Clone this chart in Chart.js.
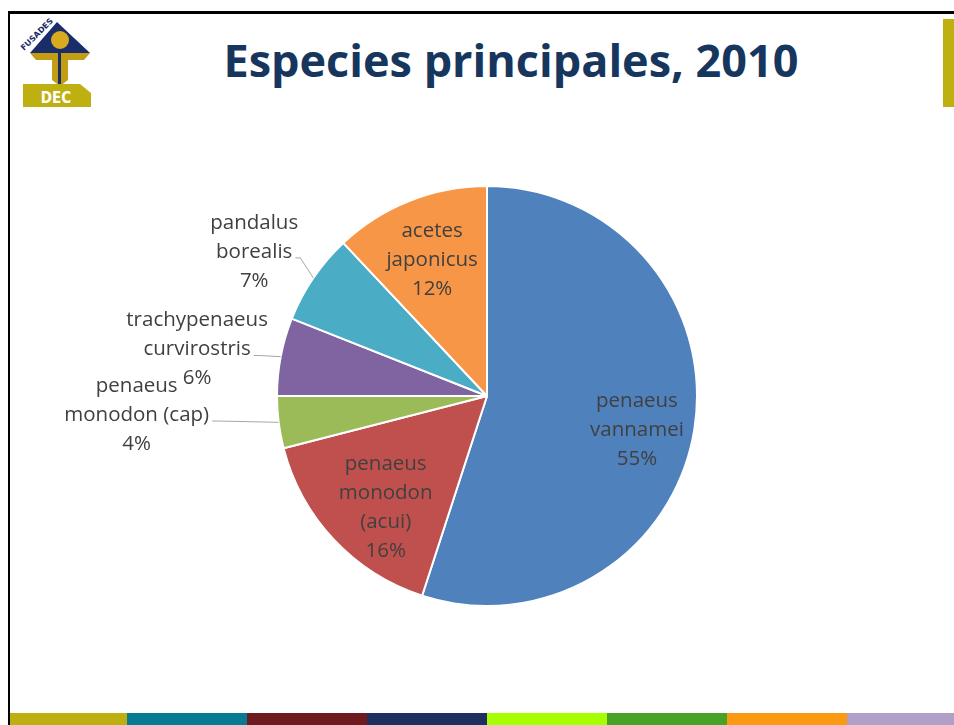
<!DOCTYPE html>
<html>
<head>
<meta charset="utf-8">
<script src="https://cdn.jsdelivr.net/npm/chart.js@4"></script>
<style>
  html, body { margin: 0; padding: 0; background: #fff; }
  #slide { position: relative; width: 954px; height: 725px; overflow: hidden; background: #fff; }
  #frameTop { position: absolute; left: 8px; top: 11px; width: 946px; height: 3px; background: #000; }
  #frameLeft { position: absolute; left: 8px; top: 11px; width: 2px; height: 714px; background: #000; }
  #sideBar { position: absolute; left: 943px; top: 19px; width: 11px; height: 88px; background: #bfb012; }
  #title { position: absolute; left: 0; top: 29px; width: 1022px; text-align: center;
           font-family: "Open Sans", sans-serif; font-weight: bold; font-size: 45px; color: #17365d; }
  #logo { position: absolute; left: 14px; top: 14px; }
  #bottomBar { position: absolute; left: 10px; top: 713px; width: 944px; height: 12px; display: flex; }
  #bottomBar div { height: 12px; }
  #pie { position: absolute; left: 0; top: 0; }
</style>
</head>
<body>
<div id="slide">
  <div id="frameTop"></div>
  <div id="frameLeft"></div>
  <div id="sideBar"></div>
  <svg id="logo" width="80" height="95" viewBox="14 14 80 95">
    <polygon points="30,53 57,22 90,53" fill="#1a2d6b"/>
    <polygon points="30,53 90,53 84,60 68,60 68,80 60,86 52,80 52,60 36,60" fill="#c29c12"/>
    <rect x="58" y="46" width="3" height="38" fill="#1a2d6b"/>
    <circle cx="60" cy="40" r="9" fill="#d9a91e"/>
    <text x="0" y="0" transform="translate(24,51) rotate(-45)" font-family="DejaVu Sans" font-weight="bold" font-size="8" fill="#1a2d6b">FUSADES</text>
    <polygon points="23,84 80,84 91,93 91,107 23,107" fill="#bfb012"/>
    <text x="56" y="103" text-anchor="middle" font-family="DejaVu Sans Condensed, DejaVu Sans" font-weight="bold" font-size="15" fill="#fff">DEC</text>
  </svg>
  <div id="title">Especies principales, 2010</div>
  <canvas id="pie" width="954" height="725"></canvas>
  <div id="bottomBar"></div>
</div>
<script>
const speciesNames = [
  ['penaeus', 'vannamei'],
  ['penaeus', 'monodon', '(acui)'],
  ['penaeus', 'monodon (cap)'],
  ['trachypenaeus', 'curvirostris'],
  ['pandalus', 'borealis'],
  ['acetes', 'japonicus']
];
const sharePercent = [55, 16, 4, 6, 7, 12];
const sliceColors = ['#4f81bd', '#c0504d', '#9bbb59', '#8064a2', '#4bacc6', '#f79646'];
const barColors = ['#bdae12', '#077b92', '#6f1a1e', '#1e3060', '#a5ff00', '#47a325', '#fb9a12', '#b09fc6'];

// where each label sits: fraction of radius along the slice middle
const labelRadius = [0.73, 0.71, 1.67, 1.40, 1.31, 0.71];
const labelAngleShift = [3, -4, 4.5, -1.2, -2, 0];

const bar = document.getElementById('bottomBar');
barColors.forEach((c, i) => {
  const d = document.createElement('div');
  d.style.background = c;
  d.style.width = (i === 0 ? 117 : i === barColors.length - 1 ? 107 : 120) + 'px';
  bar.appendChild(d);
});

const labelPlugin = {
  id: 'sliceLabels',
  afterDatasetsDraw(chart) {
    const ctx = chart.ctx;
    const meta = chart.getDatasetMeta(0);
    const lineH = 29;
    ctx.save();
    ctx.font = '20.5px "Open Sans", sans-serif';
    ctx.fillStyle = '#404040';
    ctx.textAlign = 'center';
    ctx.textBaseline = 'middle';
    meta.data.forEach((arc, i) => {
      const p = arc.getProps(['x', 'y', 'startAngle', 'endAngle', 'outerRadius'], true);
      const mid = (p.startAngle + p.endAngle) / 2;
      const a = mid + labelAngleShift[i] * Math.PI / 180;
      const r = p.outerRadius * labelRadius[i];
      const cx = p.x + Math.cos(a) * r;
      const cy = p.y + Math.sin(a) * r + 2.5;
      const lines = speciesNames[i].concat([sharePercent[i] + '%']);
      const top = cy - (lines.length - 1) * lineH / 2;
      lines.forEach((t, k) => ctx.fillText(t, cx, top + k * lineH));
      if (labelRadius[i] > 1) {
        // leader line from the middle text line to the slice edge
        const k = lines.length - 2;
        const w = ctx.measureText(lines[k]).width;
        const sx = cx + w / 2 + 3;
        const sy = top + k * lineH + 6;
        const ex = p.x + Math.cos(mid) * p.outerRadius;
        const ey = p.y + Math.sin(mid) * p.outerRadius;
        ctx.strokeStyle = '#a6a6a6';
        ctx.lineWidth = 1;
        ctx.beginPath();
        ctx.moveTo(sx, sy);
        ctx.lineTo(sx + 5, sy);
        ctx.lineTo(ex, ey);
        ctx.stroke();
      }
    });
    ctx.restore();
  }
};

new Chart(document.getElementById('pie'), {
  type: 'pie',
  data: {
    labels: speciesNames.map(n => n.join(' ')),
    datasets: [{
      data: sharePercent,
      backgroundColor: sliceColors,
      borderColor: '#ffffff',
      borderWidth: 2
    }]
  },
  options: {
    responsive: false,
    animation: false,
    layout: { padding: { left: 276, right: 256, top: 185, bottom: 118 } },
    plugins: {
      legend: { display: false },
      title: { display: false },
      tooltip: { enabled: false }
    }
  },
  plugins: [labelPlugin]
});
</script>
</body>
</html>
